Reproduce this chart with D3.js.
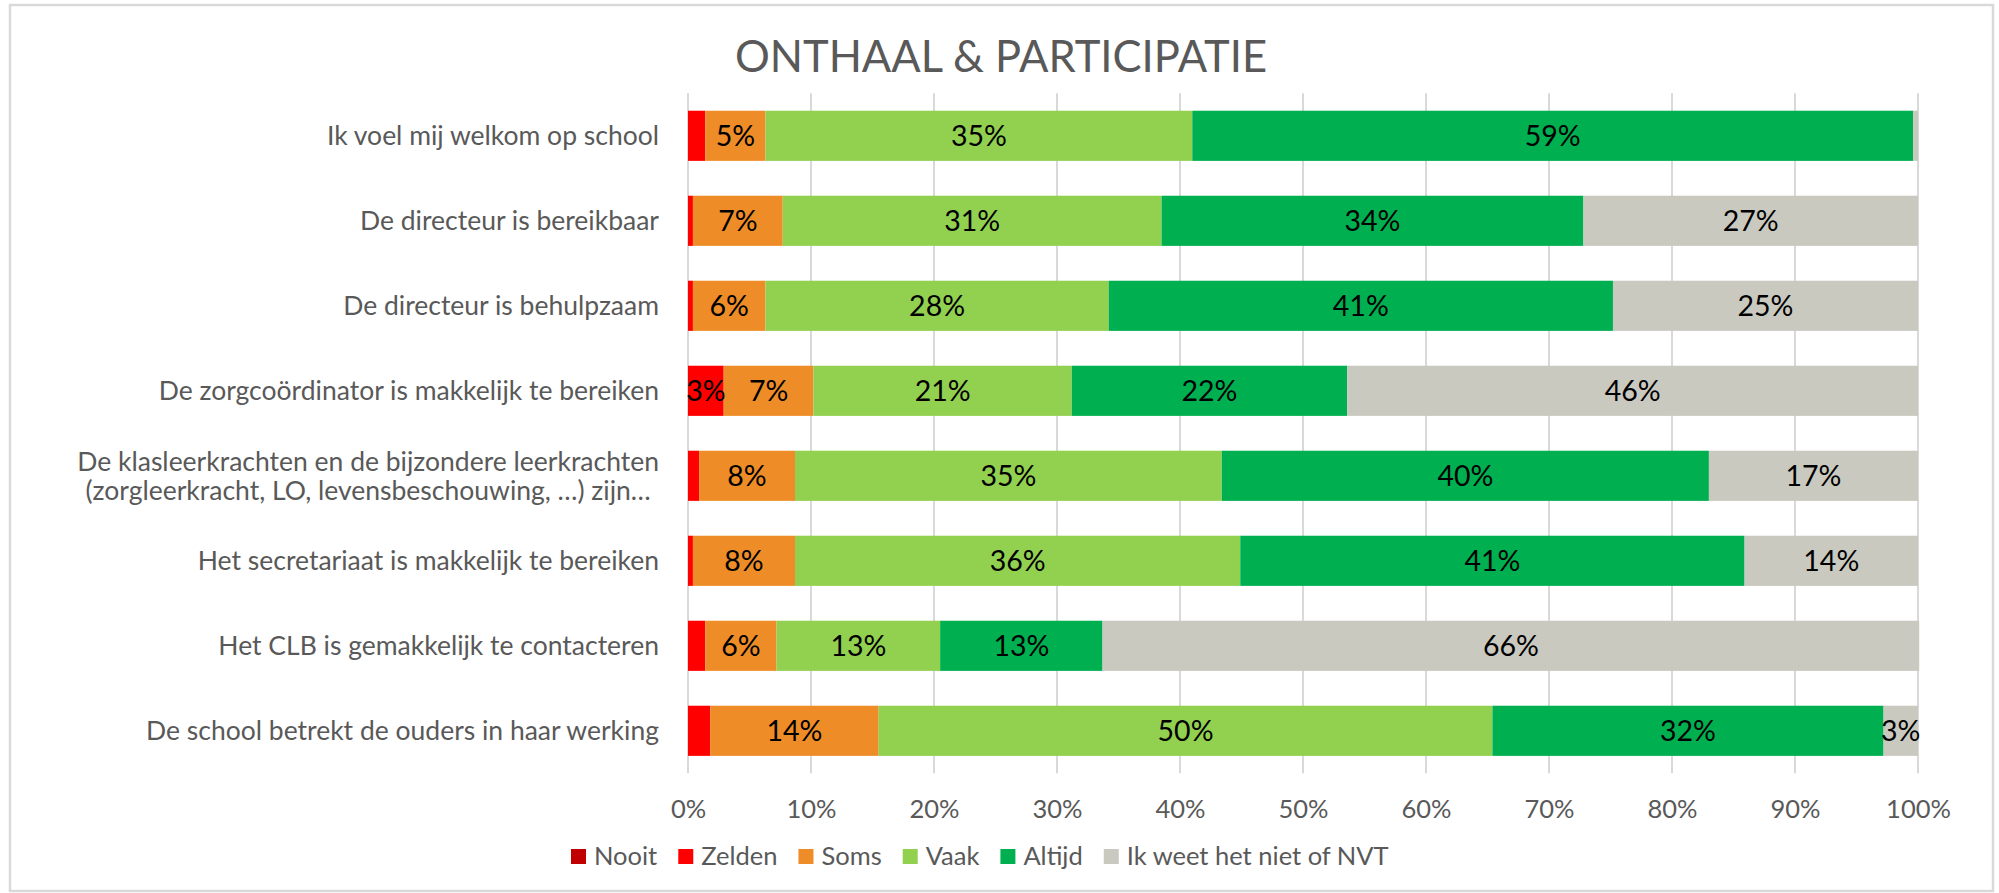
<!DOCTYPE html>
<html>
<head>
<meta charset="utf-8">
<script src="https://cdn.jsdelivr.net/npm/d3@7"></script>
<style>
  html, body { margin: 0; padding: 0; background: #fff; }
  svg { display: block; }
  text { font-family: "Lato", "Open Sans", sans-serif; }
</style>
</head>
<body>
<svg id="chart" width="1999" height="893"></svg>
<script>
const title = "ONTHAAL & PARTICIPATIE";
const categories = [
  "Ik voel mij welkom op school",
  "De directeur is bereikbaar",
  "De directeur is behulpzaam",
  "De zorgcoördinator is makkelijk te bereiken",
  "De klasleerkrachten en de bijzondere leerkrachten\n(zorgleerkracht, LO, levensbeschouwing, …) zijn…",
  "Het secretariaat is makkelijk te bereiken",
  "Het CLB is gemakkelijk te contacteren",
  "De school betrekt de ouders in haar werking"
];
const seriesNames = ["Nooit", "Zelden", "Soms", "Vaak", "Altijd", "Ik weet het niet of NVT"];
const nooit  = [0,   0,    0,    0,    0,    0,    0,    0];
const zelden = [1.4, 0.4,  0.4,  2.9,  0.9,  0.4,  1.4,  1.8];
const soms   = [4.9, 7.3,  5.9,  7.3,  7.8,  8.3,  5.8,  13.7];
const vaak   = [34.7, 30.8, 27.9, 21.0, 34.7, 36.2, 13.3, 49.9];
const altijd = [58.6, 34.3, 41.0, 22.4, 39.6, 41.0, 13.2, 31.8];
const nvt    = [0.4, 27.2, 24.8, 46.4, 17.0, 14.1, 66.4, 2.8];
const tickValues = [0, 10, 20, 30, 40, 50, 60, 70, 80, 90, 100];
const colors = ["#C00000", "#FF0000", "#EE8D27", "#92D050", "#00B050", "#C9C9C0"];

const seriesValues = [nooit, zelden, soms, vaak, altijd, nvt];
const rows = categories.map((c, i) => {
  const r = { cat: c };
  seriesNames.forEach((s, j) => r[s] = seriesValues[j][i]);
  return r;
});

const svg = d3.select("#chart");
const W = 1999, H = 893;
svg.append("rect").attr("width", W).attr("height", H).attr("fill", "#fff");
svg.append("rect").attr("x", 10).attr("y", 5).attr("width", 1983).attr("height", 886)
  .attr("fill", "none").attr("stroke", "#D9D9D9").attr("stroke-width", 2.5);

const plot = { left: 688, right: 1918, top: 93.3, bottom: 773.3 };
const x = d3.scaleLinear().domain([0, 100]).range([plot.left, plot.right]);
const y = d3.scaleBand().domain(categories).range([plot.top, plot.bottom])
  .paddingInner(0.41).paddingOuter(0.205);
const color = d3.scaleOrdinal().domain(seriesNames).range(colors);

// title
svg.append("text").attr("x", 1001).attr("y", 72).attr("text-anchor", "middle")
  .attr("font-size", 43.5).attr("fill", "#595959").text(title);

// gridlines
svg.append("g").selectAll("line").data(tickValues).join("line")
  .attr("x1", d => x(d)).attr("x2", d => x(d))
  .attr("y1", plot.top).attr("y2", plot.bottom)
  .attr("stroke", "#D9D9D9").attr("stroke-width", 2);

// x axis labels
const xAxis = d3.axisBottom(x).tickValues(tickValues).tickFormat(d => d + "%").tickSize(0).tickPadding(0);
const gx = svg.append("g").attr("transform", `translate(0,${plot.bottom})`).call(xAxis);
gx.select(".domain").remove();
gx.selectAll("text").attr("font-size", 25.5).attr("fill", "#595959")
  .attr("font-family", "Lato, sans-serif").attr("dy", null).attr("y", 45);

// stacked bars
const stack = d3.stack().keys(seriesNames);
const stacked = stack(rows);
const layers = svg.append("g").selectAll("g").data(stacked).join("g")
  .attr("fill", d => color(d.key));
layers.selectAll("rect").data(d => d).join("rect")
  .attr("x", d => x(d[0]))
  .attr("width", d => x(d[1]) - x(d[0]))
  .attr("y", d => y(d.data.cat))
  .attr("height", y.bandwidth());

// data labels
const lab = svg.append("g");
stacked.forEach(layer => {
  layer.forEach(d => {
    const v = d[1] - d[0];
    if (v >= 2.5) {
      lab.append("text")
        .attr("x", x((d[0] + d[1]) / 2))
        .attr("y", y(d.data.cat) + y.bandwidth() / 2 + 10)
        .attr("text-anchor", "middle")
        .attr("font-size", 28.5).attr("fill", "#000")
        .text(Math.round(v) + "%");
    }
  });
});

// category labels
const labelRight = 659, lineH = 29;
const cg = svg.append("g");
categories.forEach(c => {
  const lines = c.split("\n");
  const cy = y(c) + y.bandwidth() / 2 + 9.5;
  const t = cg.append("text").attr("font-size", 26.5).attr("fill", "#595959");
  const spans = lines.map((ln, i) => t.append("tspan")
    .attr("y", cy + (i - (lines.length - 1) / 2) * lineH).text(ln));
  const widths = spans.map(s => s.node().getComputedTextLength());
  const maxW = d3.max(widths);
  spans.forEach(s => s.attr("x", labelRight - maxW / 2).attr("text-anchor", "middle"));
});

// legend
const legend = svg.append("g");
const sq = 15, gapText = 8, gapItem = 21, legY = 849;
let lx = 571;
seriesNames.forEach(s => {
  legend.append("rect").attr("x", lx).attr("y", legY).attr("width", sq).attr("height", sq)
    .attr("fill", color(s));
  const t = legend.append("text").attr("x", lx + sq + gapText).attr("y", legY + sq + 1)
    .attr("font-size", 25.5).attr("fill", "#595959").text(s);
  lx += sq + gapText + t.node().getComputedTextLength() + gapItem;
});
</script>
</body>
</html>
